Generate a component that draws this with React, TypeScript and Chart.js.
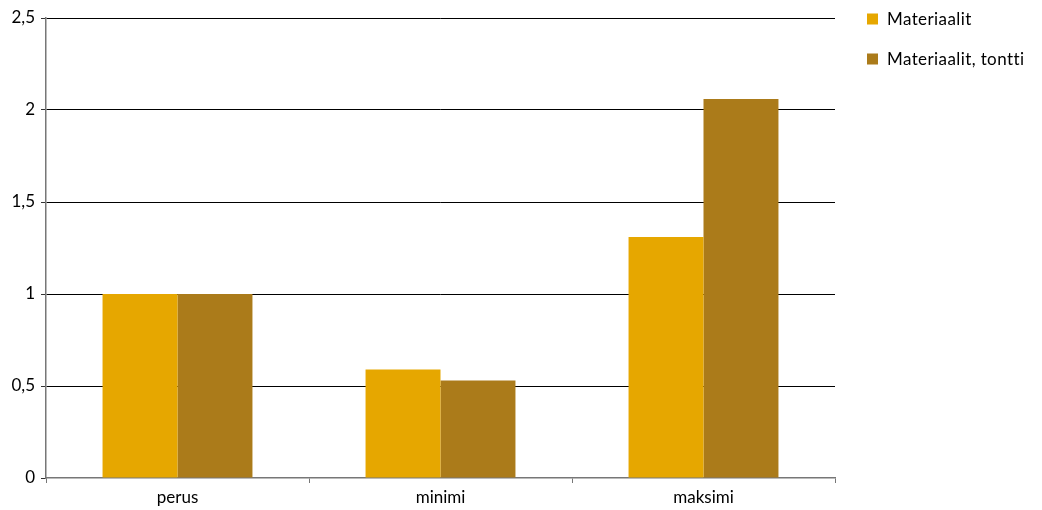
import React, { useEffect, useRef } from "react";
import { Chart, registerables } from "chart.js";

Chart.register(...registerables);

const categories = ["perus", "minimi", "maksimi"];
const materiaalit = [1.0, 0.59, 1.31];
const materiaalitTontti = [1.0, 0.53, 2.06];
const seriesLabels = ["Materiaalit", "Materiaalit, tontti"];
const seriesColors = ["#E6A700", "#AB7B1A"];
const yTicks = [0, 0.5, 1, 1.5, 2, 2.5];

const FONT = "Lato, 'Open Sans', sans-serif";
const FS = 17;

const legendPlugin = {
  id: "customLegend",
  afterDraw(chart: any) {
    const ctx = chart.ctx;
    ctx.save();
    ctx.font = `${FS}px ${FONT}`;
    try {
      (ctx as any).letterSpacing = "0.4px";
    } catch (e) {}
    ctx.textBaseline = "middle";
    ctx.textAlign = "left";
    chart.data.datasets.forEach((ds: any, i: number) => {
      const cy = 19 + i * 40;
      const x = 867;
      ctx.fillStyle = ds.backgroundColor;
      ctx.fillRect(x, cy - 5.5, 11, 11);
      ctx.fillStyle = "#000";
      ctx.fillText(ds.label, x + 20, cy + 1);
    });
    ctx.restore();
  },
};

export default function App() {
  const ref = useRef<HTMLCanvasElement | null>(null);
  useEffect(() => {
    document.body.style.margin = "0";
    const chart = new Chart(ref.current as HTMLCanvasElement, {
      type: "bar",
      data: {
        labels: categories,
        datasets: [
          {
            label: seriesLabels[0],
            data: materiaalit,
            backgroundColor: seriesColors[0],
            categoryPercentage: 0.57,
            barPercentage: 1.0,
          },
          {
            label: seriesLabels[1],
            data: materiaalitTontti,
            backgroundColor: seriesColors[1],
            categoryPercentage: 0.57,
            barPercentage: 1.0,
          },
        ],
      },
      options: {
        animation: false,
        responsive: false,
        maintainAspectRatio: false,
        layout: { padding: { left: 0, right: 207, top: 18, bottom: 0 } },
        plugins: { legend: { display: false }, tooltip: { enabled: false } },
        scales: {
          x: {
            offset: true,
            grid: {
              offset: true,
              drawOnChartArea: false,
              drawTicks: true,
              tickLength: 5,
              color: "#777",
            },
            border: { color: "#777", width: 1.5 },
            ticks: { color: "#000", font: { family: FONT, size: FS }, padding: 4 },
            afterFit: (scale: any) => {
              scale.height = 32;
            },
          },
          y: {
            min: 0,
            max: 2.5,
            afterBuildTicks: (scale: any) => {
              scale.ticks = yTicks.map((v) => ({ value: v }));
            },
            grid: {
              color: (c: any) => (c.tick && c.tick.value === 0 ? "rgba(0,0,0,0)" : "#000"),
              tickColor: "#333",
              tickLength: 5,
              lineWidth: 1,
            },
            border: { color: "#777", width: 1.5 },
            ticks: {
              color: "#000",
              font: { family: FONT, size: FS },
              padding: 6,
              callback: (v: any) => String(v).replace(".", ","),
            },
            afterFit: (scale: any) => {
              scale.width = 46;
            },
          },
        },
      },
      plugins: [legendPlugin],
    });
    return () => chart.destroy();
  }, []);
  return (
    <div style={{ width: 1042, height: 510 }}>
      <canvas ref={ref} width={1042} height={510} />
    </div>
  );
}
